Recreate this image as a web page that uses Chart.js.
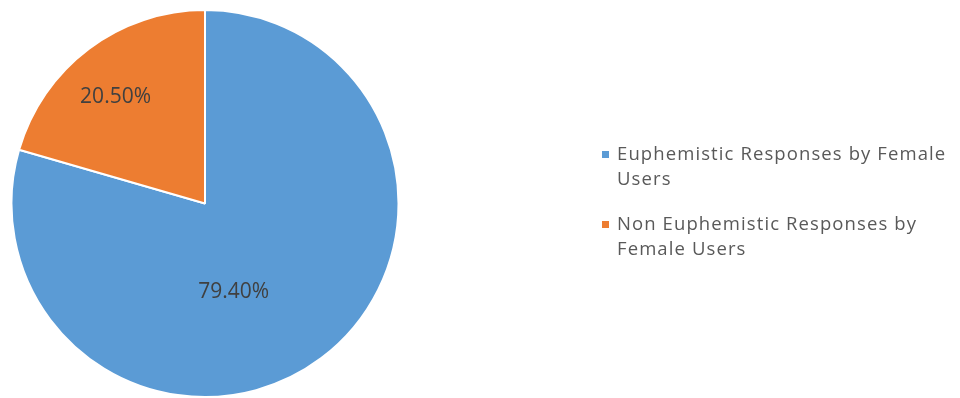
<!DOCTYPE html>
<html>
<head>
<meta charset="utf-8">
<script src="https://cdn.jsdelivr.net/npm/chart.js@4.4.0/dist/chart.umd.min.js"></script>
<style>
  html, body { margin: 0; padding: 0; background: #fff; }
  #wrap { width: 960px; height: 398px; }
</style>
</head>
<body>
<div id="wrap"><canvas id="pieChart"></canvas></div>
<script>
const categories = [
    ["Euphemistic Responses by Female", "Users"],
    ["Non Euphemistic Responses by", "Female Users"]
];
const shares = [79.40, 20.50];
const colors = ["#5B9BD5", "#ED7D31"];

// where each value label sits inside its slice: fraction of radius, turn from the slice middle (deg)
const labelSpots = [
    { r: 0.48, turn: 19 },
    { r: 0.72, turn: -3 }
];

const sliceLabels = {
    id: "sliceLabels",
    afterDatasetsDraw(chart) {
        const ctx = chart.ctx;
        const meta = chart.getDatasetMeta(0);
        ctx.save();
        ctx.font = "21px 'Open Sans'";
        ctx.fillStyle = "#404040";
        ctx.textAlign = "center";
        ctx.textBaseline = "middle";
        meta.data.forEach((arc, i) => {
            const spot = labelSpots[i];
            const mid = (arc.startAngle + arc.endAngle) / 2 + spot.turn * Math.PI / 180;
            const x = arc.x + Math.cos(mid) * arc.outerRadius * spot.r;
            const y = arc.y + Math.sin(mid) * arc.outerRadius * spot.r;
            ctx.fillText(shares[i].toFixed(2) + "%", x, y);
        });
        ctx.restore();
    }
};

// legend on the right with wrapped lines
const sideLegend = {
    id: "sideLegend",
    afterDraw(chart) {
        const ctx = chart.ctx;
        const left = 602;
        let baseline = 160;
        ctx.save();
        ctx.font = "18.5px 'Open Sans'";
        ctx.letterSpacing = "1.1px";
        ctx.textBaseline = "alphabetic";
        categories.forEach((lines, i) => {
            ctx.fillStyle = colors[i];
            ctx.fillRect(left, baseline - 9, 7, 7);
            ctx.fillStyle = "#595959";
            lines.forEach((line, j) => {
                ctx.fillText(line, left + 15, baseline + j * 25);
            });
            baseline += lines.length * 25 + 20;
        });
        ctx.restore();
    }
};

new Chart(document.getElementById("pieChart"), {
    type: "pie",
    data: {
        labels: categories.map(l => l.join(" ")),
        datasets: [{
            data: shares,
            backgroundColor: colors,
            borderColor: "#ffffff",
            borderWidth: 2
        }]
    },
    options: {
        responsive: true,
        maintainAspectRatio: false,
        animation: false,
        layout: { padding: { left: 10, top: 9, right: 560, bottom: 0 } },
        plugins: {
            legend: { display: false },
            tooltip: { enabled: false }
        }
    },
    plugins: [sliceLabels, sideLegend]
});
</script>
</body>
</html>
